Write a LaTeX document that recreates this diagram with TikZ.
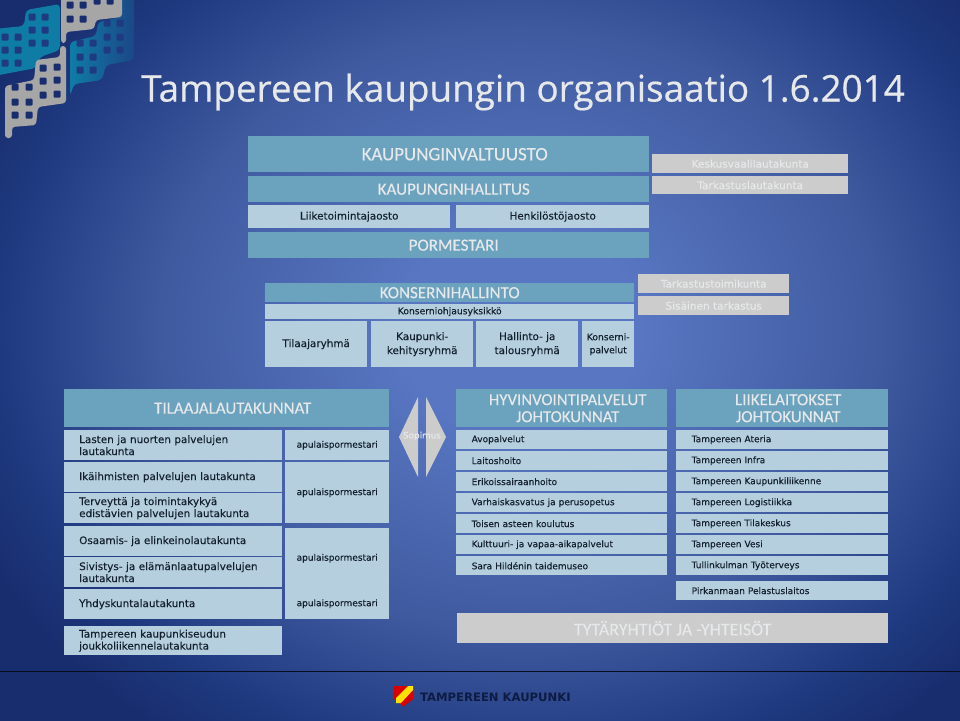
\documentclass[tikz,border=0pt]{standalone}
\usepackage{fontspec}
\setmainfont{DejaVu Sans}[FakeBold=0.25]
\newfontfamily\headfont{Carlito}[FakeBold=0.25]
\newfontfamily\titlefont{Open Sans}[FakeBold=0.5]
\newfontfamily\logofont{DejaVu Sans Bold}
\definecolor{headblue}{HTML}{6BA3BF}
\definecolor{lightblue}{HTML}{B5CFDF}
\definecolor{greybox}{HTML}{CCCCCC}
\definecolor{inktext}{HTML}{14202E}
\definecolor{paletext}{HTML}{E6E8EA}
\definecolor{bgnavy}{HTML}{182D6E}
\definecolor{bgdark}{HTML}{1F3A80}
\definecolor{bgmid}{HTML}{3F5A9F}
\definecolor{bglight}{HTML}{5876C2}
\definecolor{logoteal}{HTML}{0F7CA6}
\pgfdeclareradialshading{bgglow}{\pgfpoint{0bp}{0bp}}{color(0bp)=(bglight); color(5bp)=(bglight); color(15bp)=(bgmid); color(21.5bp)=(bgdark); color(25bp)=(bgnavy); color(50bp)=(bgnavy)}
\tikzset{
	plainbox/.style={rectangle, anchor=north west, inner sep=0pt, align=center},
	headbox/.style={plainbox, fill=headblue, text=paletext, font=\headfont\fontsize{17}{22}\selectfont},
	lightbox/.style={plainbox, fill=lightblue, text=inktext, font=\fontsize{10.4}{14}\selectfont},
	greyhead/.style={plainbox, fill=greybox, text=paletext, font=\fontsize{10.5}{12}\selectfont},
	rowbox/.style={lightbox, align=left, inner xsep=15pt, font=\fontsize{10.4}{12}\selectfont},
	listbox/.style={lightbox, align=left, inner xsep=15.5pt, font=\fontsize{9}{12}\selectfont},
	mayorbox/.style={lightbox, font=\fontsize{9}{12}\selectfont},
	halfdiamond/.style={fill=greybox}
}
\begin{document}
\begin{tikzpicture}[x=1pt, y=-1pt]
\useasboundingbox (0,0) rectangle (960,720);
% background
\begin{scope}
	\clip (0,0) rectangle (960,720);
	\shade [shading=bgglow] (-80,-170) rectangle (1120,830);
\end{scope}
\draw [black!70!bgnavy, line width=.8pt] (0,671) -- (960,671);

% corner logo
\begin{scope}
	\clip (0,0) rectangle (960,720);
	\shade [left color=logoteal, right color=bgdark!80!logoteal, rounded corners=4pt] (70,96) -- (70,42) -- (96,36) -- (98,22) -- (122,17) -- (122,-6) -- (134,-6) -- (134,60) -- (106,65) -- (102,80) -- (74,84) -- cycle;
	\fill [logoteal, rounded corners=4pt] (-6,29) -- (24,26) -- (26,10) -- (60,4) -- (60,50) -- (40,57) -- (36,68) -- (-6,76) -- cycle;
	\fill [black!35, rounded corners=3pt] (61,-6) -- (61,43) -- (66,43) -- (66,32) -- (94,29) -- (96,20) -- (122,17) -- (122,-6) -- cycle;
	\fill [black!35, rounded corners=3pt] (5,138) -- (5,86) -- (34,80) -- (36,60) -- (60,57) -- (60,46) -- (66,46) -- (66,103) -- (38,107) -- (36,125) -- (12,127) -- (12,138) -- cycle;
	\foreach \x/\y in {15/87,29/87,15/102,29/102,15/115,29/115,43/68,57/67,43/81,57/80,43/95,57/94,70/5,83/5,70/19,83/19,97/1,110/1}
		\fill [bgnavy, rounded corners=1pt] (\x-3.5,\y-3.5) rectangle (\x+3.5,\y+3.5);
	\foreach \x/\y in {5/37,18/37,5/50,18/50,5/63,18/63,32/17,45/17,32/30,45/30,32/43,45/43,80/43,93/43,80/57,93/57,80/70,93/70,107/23,120/23,107/37,120/37,107/50,120/50}
		\fill [bgdark, rounded corners=1pt] (\x-3.5,\y-3.5) rectangle (\x+3.5,\y+3.5);
\end{scope}

\node [text=paletext, font=\titlefont\fontsize{36.85}{44}\selectfont, anchor=west, inner sep=0pt] (title) at (141,92) {Tampereen kaupungin organisaatio 1.6.2014};

% top block
\node [headbox, minimum width=401, minimum height=36, font=\headfont\fontsize{18.9}{22}\selectfont] (valtuusto) at (248,136) {\hspace*{12pt}KAUPUNGINVALTUUSTO};
\node [headbox, minimum width=401, minimum height=26] (hallitus) at (248,176) {\hspace*{10pt}KAUPUNGINHALLITUS};
\node [lightbox, minimum width=202, minimum height=23] (liiketoiminta) at (248,205) {Liiketoimintajaosto};
\node [lightbox, minimum width=193, minimum height=23] (henkilosto) at (456,205) {Henkilöstöjaosto};
\node [headbox, minimum width=401, minimum height=26] (pormestari) at (248,232) {\hspace*{10pt}PORMESTARI};
\node [greyhead, minimum width=196, minimum height=19] (keskusvaali) at (652,154) {Keskusvaalilautakunta};
\node [greyhead, minimum width=196, minimum height=18] (tarkastuslk) at (652,176) {Tarkastuslautakunta};

% konsernihallinto
\node [headbox, minimum width=369, minimum height=19] (konserni) at (265,283) {KONSERNIHALLINTO};
\node [lightbox, minimum width=369, minimum height=15, font=\fontsize{9.2}{10}\selectfont] (ohjaus) at (265,304) {Konserniohjausyksikkö};
\node [lightbox, minimum width=102, minimum height=46] (tilaaja) at (265,321) {Tilaajaryhmä};
\node [lightbox, minimum width=102, minimum height=46] (kaupunki) at (371,321) {Kaupunki-\\kehitysryhmä};
\node [lightbox, minimum width=102, minimum height=46] (hallinto) at (476,321) {Hallinto- ja\\talousryhmä};
\node [lightbox, minimum width=52, minimum height=46, font=\fontsize{9.2}{13}\selectfont] (palvelut) at (582,321) {Konserni-\\palvelut};
\node [greyhead, minimum width=151, minimum height=19] (toimikunta) at (638,274) {Tarkastustoimikunta};
\node [greyhead, minimum width=151, minimum height=19] (sisainen) at (638,296) {Sisäinen tarkastus};

% tilaajalautakunnat
\node [headbox, minimum width=325, minimum height=38] (tilaajalk) at (64,389) {\hspace*{12pt}TILAAJALAUTAKUNNAT};
\foreach \name/\y/\h/\txt in {lasten/430/30/{Lasten ja nuorten palvelujen\\lautakunta},
	ikaihmiset/462/30/{Ikäihmisten palvelujen lautakunta},
	terveys/493/30/{Terveyttä ja toimintakykyä\\edistävien palvelujen lautakunta},
	osaaminen/526/30/{Osaamis- ja elinkeinolautakunta},
	sivistys/557/30/{Sivistys- ja elämänlaatupalvelujen\\lautakunta},
	yhdyskunta/589/30/{Yhdyskuntalautakunta},
	joukko/626/29/{Tampereen kaupunkiseudun\\joukkoliikennelautakunta}}
	\node [rowbox, text width=188, minimum height=\h] (\name) at (64,\y) {\txt};
\node [mayorbox, minimum width=104, minimum height=30] (apulainen1) at (285,430) {apulaispormestari};
\node [mayorbox, minimum width=104, minimum height=61] (apulainen2) at (285,462) {\raisebox{2pt}{apulaispormestari}};
\node [mayorbox, minimum width=104, minimum height=60] (apulainen3) at (285,528) {apulaispormestari};
\node [mayorbox, minimum width=104, minimum height=31] (apulainen4) at (285,588) {apulaispormestari};

% sopimus
\fill [halfdiamond] (399,437) -- (418,397) -- (418,477) -- cycle;
\fill [halfdiamond] (446,437) -- (426,397) -- (426,477) -- cycle;
\node [text=paletext, font=\fontsize{8.8}{10}\selectfont, inner sep=0pt] (sopimus) at (422,436) {Sopimus};

% johtokunnat
\node [headbox, minimum width=211, minimum height=38, font=\headfont\fontsize{16.8}{17}\selectfont] (hyvinvointi) at (456,389) {\hspace*{12pt}HYVINVOINTIPALVELUT\\\hspace*{12pt}JOHTOKUNNAT};
\node [headbox, minimum width=212, minimum height=38, font=\headfont\fontsize{17}{17}\selectfont] (liikelaitos) at (676,389) {\hspace*{12pt}LIIKELAITOKSET\\\hspace*{12pt}JOHTOKUNNAT};
\foreach \name/\y/\txt in {avo/430/Avopalvelut, laitos/451/Laitoshoito, erikois/472/Erikoissairaanhoito,
	varhais/493/Varhaiskasvatus ja perusopetus, toinen/514/Toisen asteen koulutus,
	kulttuuri/535/Kulttuuri- ja vapaa-aikapalvelut, sara/556/Sara Hildénin taidemuseo}
	\node [listbox, text width=180, minimum height=19] (\name) at (456,\y) {\txt};
\foreach \name/\y/\txt in {ateria/430/Tampereen Ateria, infra/451/Tampereen Infra, liikenne/472/Tampereen Kaupunkiliikenne,
	logistiikka/493/Tampereen Logistiikka, tilakeskus/514/Tampereen Tilakeskus, vesi/535/Tampereen Vesi,
	tullinkulma/556/Tullinkulman Työterveys, pelastus/581/Pirkanmaan Pelastuslaitos}
	\node [listbox, text width=181, minimum height=19] (\name) at (676,\y) {\txt};
\node [plainbox, fill=greybox, text=paletext, font=\headfont\fontsize{18}{22}\selectfont, minimum width=431, minimum height=30] (tytar) at (457,613) {TYTÄRYHTIÖT JA -YHTEISÖT};

% footer logo
\fill [red!85!black] (394,686) -- (413,686) -- (413,699) -- (403.5,706.5) -- (394,699) -- cycle;
\fill [yellow!85!orange] (396,703) -- (396,698) -- (408,686) -- (413,686) -- (413,690) -- (401,703) -- cycle;
\node [text=bgnavy!60!black, font=\logofont\fontsize{11.6}{12}\selectfont, anchor=west, inner sep=0pt] (kaupunkilogo) at (420,697) {TAMPEREEN KAUPUNKI};
\end{tikzpicture}
\end{document}
